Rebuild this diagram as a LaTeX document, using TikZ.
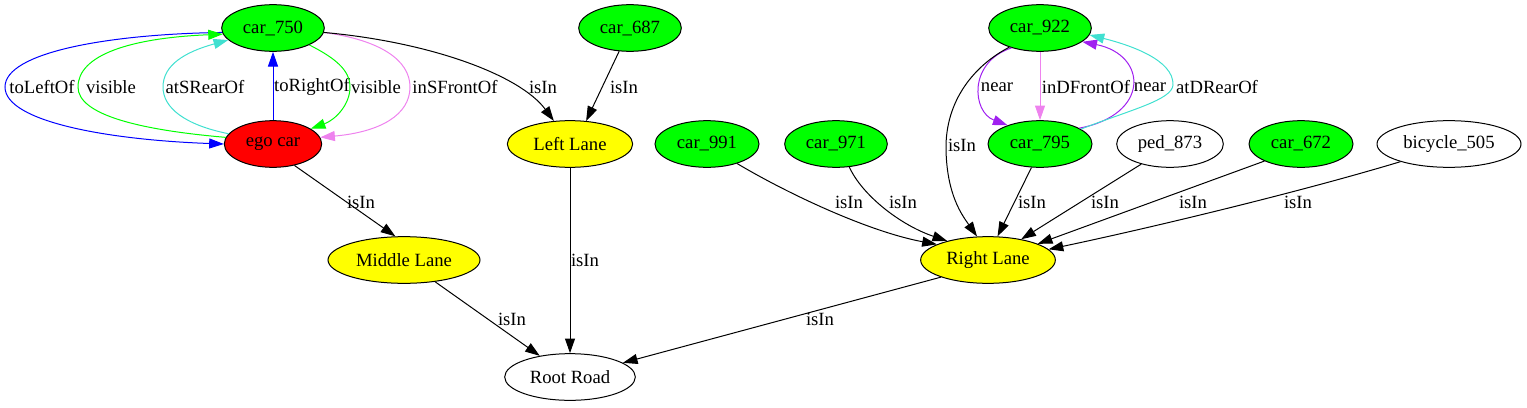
\documentclass[tikz,border=0pt]{standalone}
\usepackage{fontspec}
\setmainfont{Liberation Serif}
\usetikzlibrary{shapes.geometric,arrows.meta}
\definecolor{gvgreen}{HTML}{00FF00}
\definecolor{gvred}{HTML}{FF0000}
\definecolor{gvyellow}{HTML}{FFFF00}
\definecolor{gvblue}{HTML}{0000FF}
\definecolor{gvturq}{HTML}{40E0D0}
\definecolor{gvviolet}{HTML}{EE82EE}
\definecolor{gvpurple}{HTML}{A020F0}
\begin{document}
\begin{tikzpicture}[x=0.75pt,y=-0.75pt,
  every node/.style={font=\fontsize{14}{16}\selectfont},
  nd/.style={ellipse,draw,line width=0.75pt,minimum height=35pt,inner sep=0pt},
  car/.style={nd,fill=gvgreen},
  lane/.style={nd,fill=gvyellow},
  e/.style={line width=0.75pt,-{Triangle[length=11pt,width=7.5pt]}},
  lbl/.style={inner sep=0pt}]
\useasboundingbox (0,0) rectangle (1527,407);

% nodes
\node[car,minimum width=77pt] (c750) at (273,28) {car\_750};
\node[nd,fill=gvred,minimum width=73pt] (ego) at (273,144) {ego car};
\node[car,minimum width=77pt] (c687) at (630,28) {car\_687};
\node[lane,minimum width=94pt] (LL) at (570,144) {Left Lane};
\node[lane,minimum width=114pt] (ML) at (404,260) {Middle Lane};
\node[nd,minimum width=98pt] (RR) at (570,377) {Root Road};
\node[car,minimum width=77pt] (c922) at (1040,28) {car\_922};
\node[car,minimum width=78pt] (c795) at (1040,144) {car\_795};
\node[car,minimum width=78pt] (c991) at (707,144) {car\_991};
\node[car,minimum width=77pt] (c971) at (836,144) {car\_971};
\node[nd,minimum width=80pt] (ped) at (1170,144) {ped\_873};
\node[car,minimum width=78pt] (c672) at (1301,144) {car\_672};
\node[nd,minimum width=108pt] (bic) at (1449,144) {bicycle\_505};
\node[lane,minimum width=101pt] (RL) at (988,260) {Right Lane};

% car_750 / ego car
\draw[e,gvblue] (c750.185) .. controls (110,34) and (5,52) .. (5,87)
   .. controls (5,122) and (110,140) .. (ego.west);
\node[lbl] at (42,87) {toLeftOf};
\draw[e,gvgreen] (ego.172) .. controls (140,130) and (78,115) .. (78,87)
   .. controls (78,55) and (130,38) .. (c750.187);
\node[lbl] at (111,87) {visible};
\draw[e,gvturq] (ego.167) .. controls (185,125) and (163,108) .. (163,87)
   .. controls (163,65) and (185,52) .. (c750.195);
\node[lbl] at (205,87) {atSRearOf};
\draw[e,gvblue] (ego.north) -- (c750.south);
\node[lbl] at (312,87) {toRightOf};
\draw[e,gvgreen] (c750.-25) .. controls (335,58) and (350,70) .. (350,87)
   .. controls (350,105) and (335,120) .. (ego.22);
\node[lbl] at (376,87) {visible};
\draw[e,gvviolet] (c750.-5) .. controls (380,40) and (410,60) .. (410,87)
   .. controls (410,115) and (380,132) .. (ego.8);
\node[lbl] at (455,87) {inSFrontOf};

% isIn edges left
\draw[e] (c750.-5) .. controls (430,42) and (520,75) .. (LL.125);
\node[lbl] at (543,87) {isIn};
\draw[e] (c687.245) -- (LL.55);
\node[lbl] at (624,87) {isIn};
\draw[e] (ego.315) -- (ML.110);
\node[lbl] at (361,202) {isIn};
\draw[e] (LL.south) -- (RR.north);
\node[lbl] at (585,260) {isIn};
\draw[e] (ML.325) -- (RR.145);
\node[lbl] at (512,319) {isIn};
\draw[e] (RL.200) -- (RR.15);
\node[lbl] at (820,319) {isIn};

% car_922 / car_795
\draw[e,gvpurple] (c922.215) .. controls (968,62) and (972,112) .. (c795.150);
\node[lbl] at (997,87) {near};
\draw[e,gvviolet] (c922.south) -- (c795.north);
\node[lbl] at (1086,87) {inDFrontOf};
\draw[e,gvpurple] (c795.22) .. controls (1150,115) and (1148,55) .. (c922.-18);
\node[lbl] at (1150,87) {near};
\draw[e,gvturq] (c795.20) .. controls (1130,110) and (1172,100) .. (1173,85)
   .. controls (1174,60) and (1130,45) .. (c922.-8);
\node[lbl] at (1217,87) {atDRearOf};

% isIn edges into Right Lane
\draw[e] (c922.212) .. controls (975,65) and (945,100) .. (946,150)
   .. controls (947,195) and (962,215) .. (RL.115);
\node[lbl] at (962,145) {isIn};
\draw[e] (c991.-33) .. controls (790,195) and (870,232) .. (RL.163);
\node[lbl] at (849,202) {isIn};
\draw[e] (c971.-60) .. controls (862,195) and (900,225) .. (RL.155);
\node[lbl] at (903,202) {isIn};
\draw[e] (c795.250) -- (RL.68);
\node[lbl] at (1032,202) {isIn};
\draw[e] (ped.215) -- (RL.32);
\node[lbl] at (1105,202) {isIn};
\draw[e] (c672.205) -- (RL.18);
\node[lbl] at (1193,202) {isIn};
\draw[e] (bic.200) .. controls (1300,192) and (1150,228) .. (RL.10);
\node[lbl] at (1298,202) {isIn};
\end{tikzpicture}
\end{document}
